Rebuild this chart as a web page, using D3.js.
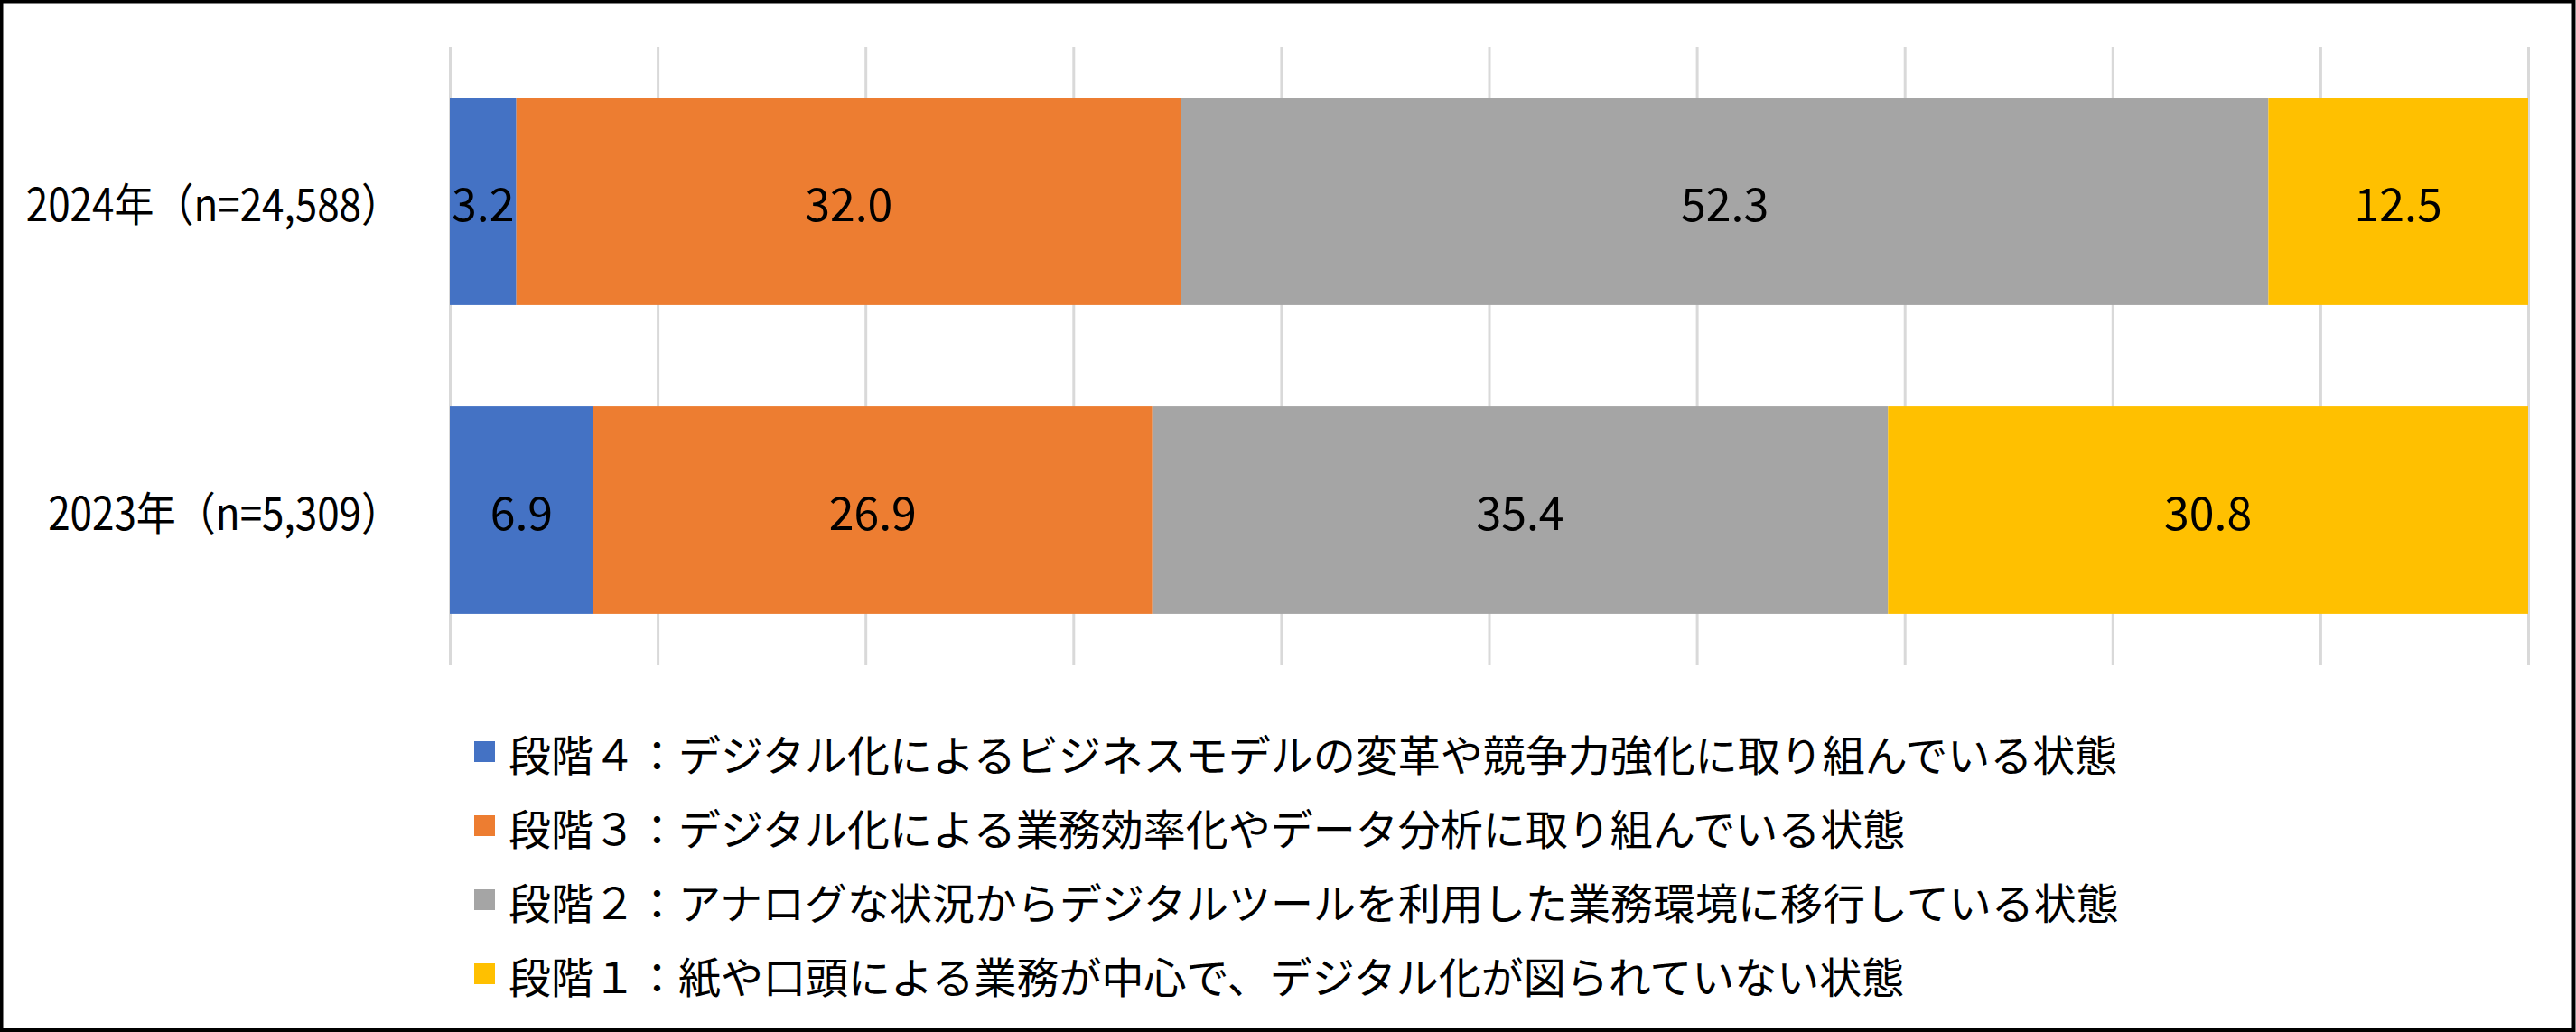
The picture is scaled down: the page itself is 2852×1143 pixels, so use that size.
<!DOCTYPE html>
<html>
<head>
  <meta charset="utf-8">
  <title>DX stage stacked bar</title>
  <style>
    body { margin: 0; background: #fff; }
    #chart { width: 2852px; height: 1143px; }
    .num { font-family: "Noto Sans CJK JP", sans-serif; }
    .jp { font-family: "Noto Sans CJK JP", sans-serif; }
  </style>
</head>
<body>
  <div id="chart"></div>

  <script src="https://cdn.jsdelivr.net/npm/d3@7"></script>
  <script>
    // categories (top to bottom)
    const years = ["2024年（n=24,588）", "2023年（n=5,309）"];

    // one series per stage
    const stage4 = [3.2, 6.9];
    const stage3 = [32.0, 26.9];
    const stage2 = [52.3, 35.4];
    const stage1 = [12.5, 30.8];

    const seriesNames = [
      "段階４：デジタル化によるビジネスモデルの変革や競争力強化に取り組んでいる状態",
      "段階３：デジタル化による業務効率化やデータ分析に取り組んでいる状態",
      "段階２：アナログな状況からデジタルツールを利用した業務環境に移行している状態",
      "段階１：紙や口頭による業務が中心で、デジタル化が図られていない状態"
    ];
    const colors = ["#4472C4", "#ED7D31", "#A5A5A5", "#FFC000"];
    const xTicks = [0, 10, 20, 30, 40, 50, 60, 70, 80, 90, 100];

    const W = 2852, H = 1143;
    const plot = { left: 498, right: 2799, top: 52, bottom: 736 };

    const svg = d3.select("#chart").append("svg")
      .attr("width", W)
      .attr("height", H);

    svg.append("rect")
      .attr("x", 1.5).attr("y", 1.5)
      .attr("width", W - 4).attr("height", H - 3.5)
      .attr("fill", "#fff")
      .attr("stroke", "#000")
      .attr("stroke-width", 4);

    // build table for stack
    const rows = years.map((y, i) => ({
      year: y, s4: stage4[i], s3: stage3[i], s2: stage2[i], s1: stage1[i]
    }));
    const keys = ["s4", "s3", "s2", "s1"];
    const stacked = d3.stack().keys(keys)(rows);

    const x = d3.scaleLinear()
      .domain([0, 100])
      .range([plot.left, plot.right]);

    const y = d3.scaleBand()
      .domain(years)
      .range([plot.top, plot.bottom])
      .paddingInner(0.328)
      .paddingOuter(0.164);

    // gridlines
    svg.append("g")
      .attr("transform", "translate(0," + plot.bottom + ")")
      .call(d3.axisBottom(x).tickValues(xTicks).tickFormat("")
        .tickSize(-(plot.bottom - plot.top)).tickSizeOuter(0))
      .call(g => g.select(".domain").remove())
      .call(g => g.selectAll(".tick line").attr("stroke", "#D9D9D9").attr("stroke-width", 3));

    // bars
    const layer = svg.selectAll(".layer")
      .data(stacked)
      .enter().append("g")
      .attr("class", "layer")
      .attr("fill", (d, i) => colors[i]);

    layer.selectAll("rect")
      .data(d => d)
      .enter().append("rect")
      .attr("x", d => x(d[0]))
      .attr("y", d => y(d.data.year))
      .attr("width", d => x(d[1]) - x(d[0]))
      .attr("height", y.bandwidth());

    // value labels
    layer.selectAll("text")
      .data(d => d)
      .enter().append("text")
      .attr("class", "num")
      .attr("x", d => (x(d[0]) + x(d[1])) / 2)
      .attr("y", d => y(d.data.year) + y.bandwidth() / 2)
      .attr("text-anchor", "middle")
      .attr("dominant-baseline", "central")
      .attr("font-size", 50)
      .attr("fill", "#000")
      .text(d => (d[1] - d[0]).toFixed(1));

    // category labels (the original font is narrower, so squeeze a bit)
    svg.selectAll(".cat")
      .data(years)
      .enter().append("text")
      .attr("class", "cat num")
      .attr("x", plot.left - 54)
      .attr("y", d => y(d) + y.bandwidth() / 2)
      .attr("text-anchor", "end")
      .attr("dominant-baseline", "central")
      .attr("font-size", 50)
      .attr("fill", "#000")
      .text(d => d)
      .each(function() {
        const len = this.getComputedTextLength();
        d3.select(this)
          .attr("textLength", len * 0.88)
          .attr("lengthAdjust", "spacingAndGlyphs");
      });

    // legend
    const legend = svg.selectAll(".legend")
      .data(seriesNames)
      .enter().append("g")
      .attr("class", "legend")
      .attr("transform", (d, i) => "translate(525," + (833 + i * 82) + ")");

    legend.append("rect")
      .attr("x", 0).attr("y", -12)
      .attr("width", 23).attr("height", 23)
      .attr("fill", (d, i) => colors[i]);

    legend.append("text")
      .attr("class", "jp")
      .attr("x", 38)
      .attr("y", 0)
      .attr("dominant-baseline", "central")
      .attr("font-size", 47)
      .attr("fill", "#000")
      .text(d => d);
  </script>
</body>
</html>
